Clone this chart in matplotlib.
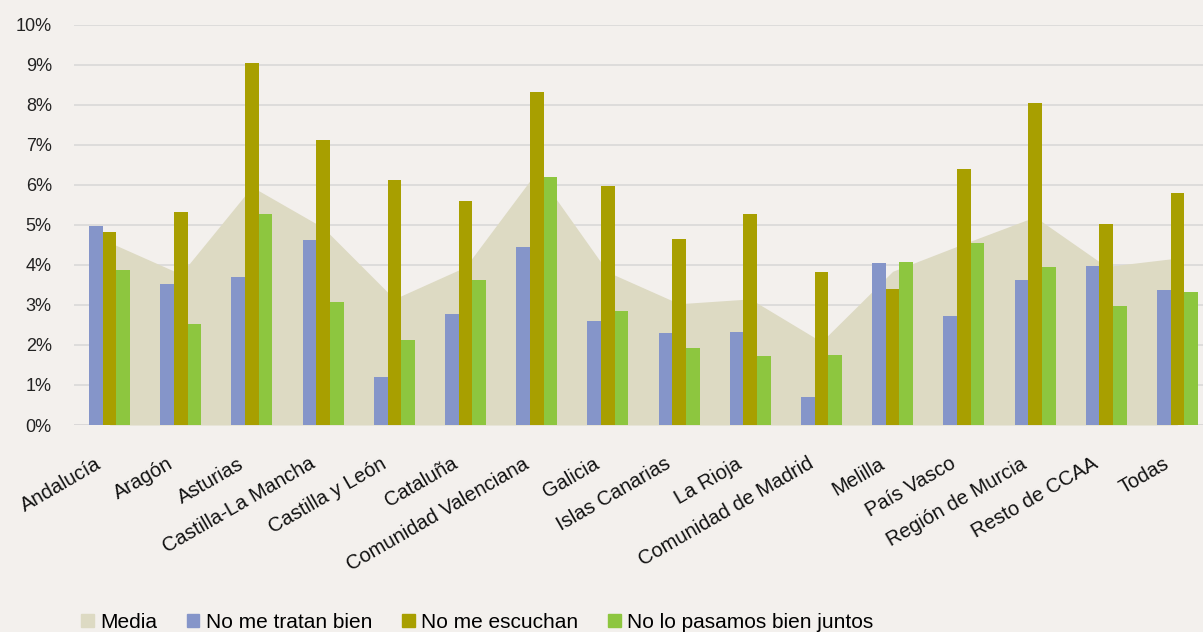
import numpy as np
import matplotlib
matplotlib.use("Agg")
import matplotlib.pyplot as plt
from matplotlib.patches import Patch

plt.rcParams["font.family"] = ["Liberation Sans", "DejaVu Sans"]

regiones = ["Andalucía", "Aragón", "Asturias", "Castilla-La Mancha", "Castilla y León",
            "Cataluña", "Comunidad Valenciana", "Galicia", "Islas Canarias", "La Rioja",
            "Comunidad de Madrid", "Melilla", "País Vasco", "Región de Murcia",
            "Resto de CCAA", "Todas"]

media         = [4.56, 3.77, 5.95, 4.93, 3.15, 3.95, 6.33, 3.82, 3.03, 3.15, 2.08, 3.84, 4.53, 5.20, 3.96, 4.17]
no_tratan     = [4.96, 3.51, 3.70, 4.61, 1.21, 2.77, 4.44, 2.60, 2.30, 2.33, 0.69, 4.05, 2.72, 3.61, 3.98, 3.37]
no_escuchan   = [4.83, 5.33, 9.04, 7.11, 6.11, 5.59, 8.31, 5.98, 4.65, 5.28, 3.83, 3.39, 6.40, 8.04, 5.01, 5.80]
no_lo_pasamos = [3.86, 2.53, 5.26, 3.07, 2.12, 3.61, 6.20, 2.84, 1.92, 1.73, 1.76, 4.08, 4.55, 3.95, 2.97, 3.32]

bg     = "#f3f0ed"
c_area = "#dddac3"
c_blue = "#8595c9"
c_oliv = "#a89f00"
c_gren = "#8dc63f"

W, H = 1203, 632
fig = plt.figure(figsize=(W / 100, H / 100), dpi=100, facecolor=bg)
ax = fig.add_axes([74 / W, 207 / H, 1139 / W, 400.3 / H], facecolor=bg)

x = np.arange(len(regiones))
w = 0.192

ax.fill_between(x, media, 0, color=c_area, lw=0, zorder=1)
ax.bar(x - w, no_tratan, w, color=c_blue, zorder=2)
ax.bar(x, no_escuchan, w, color=c_oliv, zorder=2)
ax.bar(x + w, no_lo_pasamos, w, color=c_gren, zorder=2)

ax.set_xlim(-0.5, len(regiones) - 0.5)
ax.set_ylim(0, 10)
ax.set_yticks(np.arange(0, 11))
ax.set_yticklabels([f"{v}%" for v in range(11)], fontsize=13, color="#222222")
ax.yaxis.grid(True, color="#d9d8d8", lw=1.2, zorder=0)
ax.set_axisbelow(True)
ax.tick_params(axis="y", length=0, pad=16)

ax.set_xticks(x - 0.07)
ax.set_xticklabels(regiones, rotation=30, ha="right", va="top", fontsize=14.5, color="#111111")
ax.tick_params(axis="x", length=0, pad=21)
for s in ax.spines.values():
    s.set_visible(False)
ax.axhline(0, color="#d9d8d8", lw=1.8, zorder=0.5)

handles = [Patch(color=c_area), Patch(color=c_blue), Patch(color=c_oliv), Patch(color=c_gren)]
labels = ["Media", "No me tratan bien", "No me escuchan", "No lo pasamos bien juntos"]
fig.legend(handles, labels, loc="center left", bbox_to_anchor=(81 / W, 1 - 622 / H),
           ncol=4, frameon=False, fontsize=15, handlelength=0.6, handleheight=0.6,
           handletextpad=0.3, columnspacing=1.45, borderpad=0, borderaxespad=0)

fig.savefig("out.png", dpi=100, facecolor=bg)
